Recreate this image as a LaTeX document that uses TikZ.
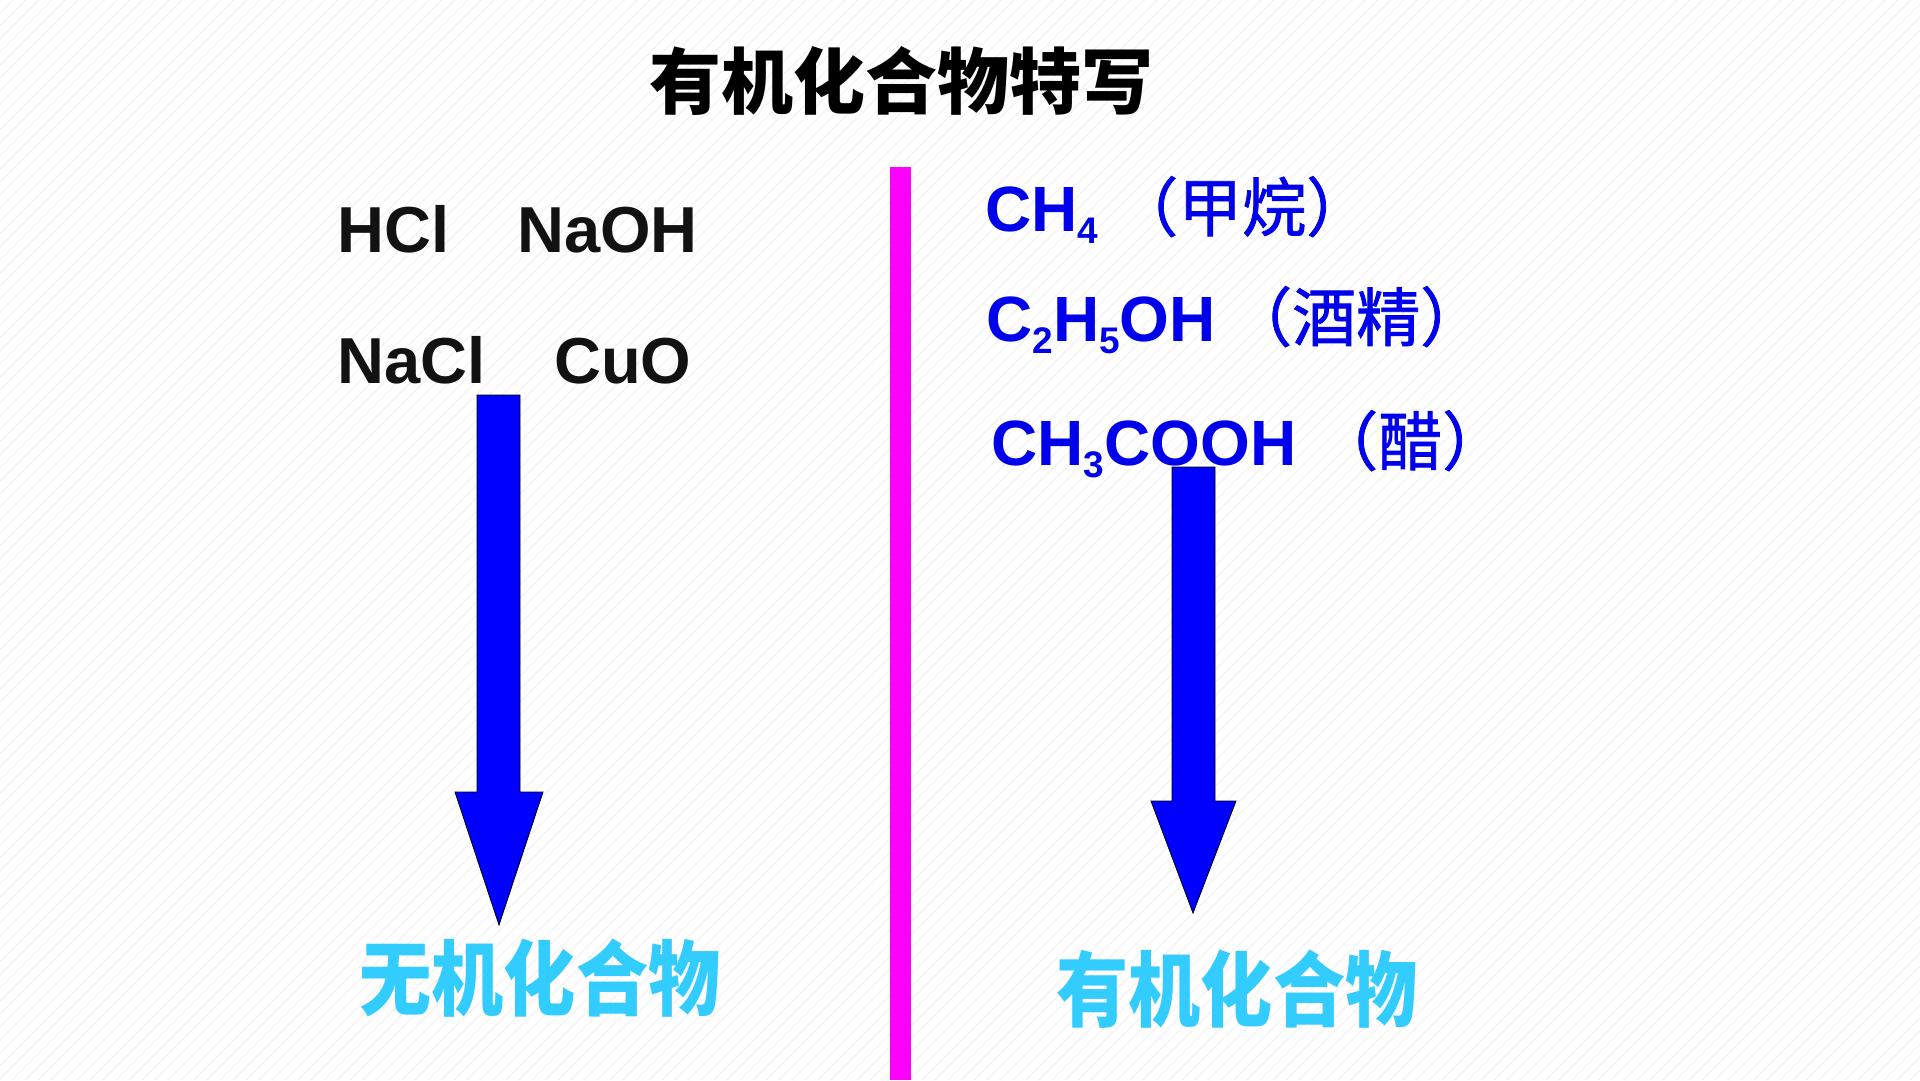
\documentclass[tikz,border=0pt]{standalone}
\usepackage{fontspec}
\setmainfont{Liberation Sans}
\newfontfamily\cjk{Noto Sans CJK SC}
\newfontfamily\cjkm[FakeBold=1.2]{Noto Sans CJK SC}
\definecolor{divider}{RGB}{255,0,255}
\definecolor{arrowblue}{RGB}{0,0,255}
\definecolor{formblue}{RGB}{0,0,235}
\definecolor{wordblue}{RGB}{51,204,255}
\definecolor{stripecol}{RGB}{243,243,243}
\newcommand\subs[1]{\raisebox{-0.2em}{\fontsize{37pt}{37pt}\selectfont #1}}
\tikzset{
  stripe/.style={draw=stripecol, line width=1.2pt},
  titletext/.style={inner sep=0pt, font=\cjk\bfseries\fontsize{72pt}{72pt}\selectfont, text=black},
  inorgtext/.style={inner sep=0pt, anchor=base west, font=\bfseries\fontsize{65pt}{65pt}\selectfont, text=black!93},
  orgtext/.style={inner sep=0pt, anchor=base west, font=\bfseries\fontsize{64pt}{64pt}\selectfont, text=formblue},
  orgname/.style={inner sep=0pt, anchor=base west, font=\cjkm\fontsize{64pt}{64pt}\selectfont, text=formblue},
  wordart/.style={inner sep=0pt, font=\cjk\bfseries\fontsize{76pt}{76pt}\selectfont, text=wordblue, xscale=0.95, yscale=1.08},
  blockarrow/.style={fill=arrowblue, draw=black, line width=0.8pt, line join=miter},
}
\begin{document}
\begin{tikzpicture}[x=1pt,y=-1pt]
\useasboundingbox (0,0) rectangle (1920,1080);
\fill[white] (0,0) rectangle (1920,1080);
\begin{scope}
  \clip (0,0) rectangle (1920,1080);
  \foreach \i in {0,13,...,3010} \draw[stripe] (\i-1080,1080) -- (\i,0);
\end{scope}

% title
\node[titletext] (title) at (901,81) {有机化合物特写};

% divider
\fill[divider] (890,167) rectangle (911,1080);

% left: inorganic formulas
\node[inorgtext] (hcl) at (337,252) {HCl};
\node[inorgtext] (naoh) at (517,252) {NaOH};
\node[inorgtext] (nacl) at (337,383) {NaCl};
\node[inorgtext] (cuo) at (554,383) {CuO};

% right: organic formulas
\node[orgtext] (ch4) at (985,231) {CH\subs{4}};
\node[orgname] (ch4n) at (1114,231) {（甲烷）};
\node[orgtext] (etoh) at (986,341) {C\subs{2}H\subs{5}OH};
\node[orgname] (etohn) at (1228,341) {（酒精）};
\node[orgtext] (acoh) at (991,465) {CH\subs{3}COOH};
\node[orgname] (acohn) at (1314,465) {（醋）};

% block arrows
\draw[blockarrow] (477,395) -- (520,395) -- (520,792) -- (543,792) -- (499,925)
  -- (455,792) -- (477,792) -- cycle;
\draw[blockarrow] (1172,467) -- (1215,467) -- (1215,801) -- (1236,801) -- (1193,913)
  -- (1151,801) -- (1172,801) -- cycle;

% bottom labels
\node[wordart] (inorg) at (540,978) {无机化合物};
\node[wordart] (org) at (1237,989) {有机化合物};
\end{tikzpicture}
\end{document}
